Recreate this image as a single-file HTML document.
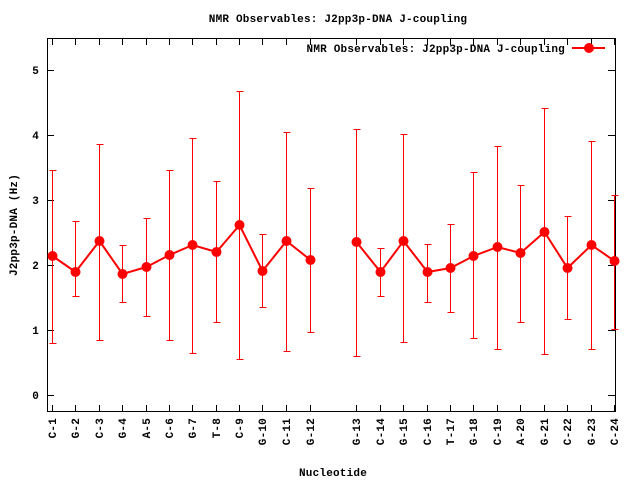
<!DOCTYPE html>
<html><head><style>body{margin:0;background:#fff}svg{display:block}text{font-family:"Liberation Mono",monospace;font-weight:bold;font-size:11px;fill:#000;letter-spacing:0.2px}</style></head>
<body>
<svg width="640" height="480" xmlns="http://www.w3.org/2000/svg">
<text x="338" y="22" text-anchor="middle">NMR Observables: J2pp3p-DNA J-coupling</text>
<rect x="47.5" y="38.5" width="568" height="373" fill="none" stroke="#000"/>
<g stroke="#000" id="yt">
<line x1="47" y1="395.5" x2="54" y2="395.5"/><line x1="615" y1="395.5" x2="608" y2="395.5"/>
<line x1="47" y1="330.5" x2="54" y2="330.5"/><line x1="615" y1="330.5" x2="608" y2="330.5"/>
<line x1="47" y1="265.5" x2="54" y2="265.5"/><line x1="615" y1="265.5" x2="608" y2="265.5"/>
<line x1="47" y1="200.5" x2="54" y2="200.5"/><line x1="615" y1="200.5" x2="608" y2="200.5"/>
<line x1="47" y1="135.5" x2="54" y2="135.5"/><line x1="615" y1="135.5" x2="608" y2="135.5"/>
<line x1="47" y1="70.5" x2="54" y2="70.5"/><line x1="615" y1="70.5" x2="608" y2="70.5"/>
</g>
<g text-anchor="end">
<text x="39" y="399">0</text><text x="39" y="334">1</text><text x="39" y="269">2</text><text x="39" y="204">3</text><text x="39" y="139">4</text><text x="39" y="74">5</text>
</g>
<text transform="translate(17,225) rotate(-90)" text-anchor="middle">J2pp3p-DNA (Hz)</text>
<text x="333" y="476" text-anchor="middle">Nucleotide</text>
<g id="xt" stroke="#000"></g>
<g id="xl"></g>
<g id="d"></g>
<text x="565" y="52" text-anchor="end">NMR Observables: J2pp3p-DNA J-coupling</text>
<line x1="572" y1="48" x2="605" y2="48" stroke="#f00" stroke-width="2"/>
<circle cx="589" cy="48" r="5" fill="#f00"/>
<script>
var D=[[52,256,170,343,"C-1"],[75,272,221,296,"G-2"],[99,241,144,340,"C-3"],[122,274,245,302,"G-4"],[146,267,218,316,"A-5"],[169,255,170,340,"C-6"],[192,245,138,353,"G-7"],[216,252,181,322,"T-8"],[239,225,91,359,"C-9"],[262,271,234,307,"G-10"],[286,241,132,351,"C-11"],[310,260,188,332,"G-12"],[356,242,129,356,"G-13"],[380,272,248,296,"C-14"],[403,241,134,342,"G-15"],[427,272,244,302,"C-16"],[450,268,224,312,"T-17"],[473,256,172,338,"G-18"],[497,247,146,349,"C-19"],[520,253,185,322,"A-20"],[544,232,108,354,"G-21"],[567,268,216,319,"C-22"],[591,245,141,349,"G-23"],[614,261,195,329,"C-24"]];
var ns="http://www.w3.org/2000/svg",xt=document.getElementById("xt"),xl=document.getElementById("xl"),d=document.getElementById("d");
function el(p,t,a){var e=document.createElementNS(ns,t);for(var k in a)e.setAttribute(k,a[k]);p.appendChild(e);return e;}
var pts=[];
D.forEach(function(r){var x=r[0]+.5;
el(xt,"line",{x1:x,y1:411,x2:x,y2:405});el(xt,"line",{x1:x,y1:39,x2:x,y2:45});
var t=el(xl,"text",{transform:"translate("+(r[0]+4)+",418) rotate(-90)","text-anchor":"end"});t.textContent=r[4];
el(d,"line",{x1:x,y1:r[2],x2:x,y2:r[3],stroke:"#f00","stroke-width":1});
el(d,"line",{x1:x-3,y1:r[2]+.5,x2:x+4,y2:r[2]+.5,stroke:"#f00"});
el(d,"line",{x1:x-3,y1:r[3]+.5,x2:x+4,y2:r[3]+.5,stroke:"#f00"});
pts.push(x+","+r[1]);});
el(d,"polyline",{points:pts.slice(0,12).join(" "),fill:"none",stroke:"#f00","stroke-width":2});
el(d,"polyline",{points:pts.slice(12).join(" "),fill:"none",stroke:"#f00","stroke-width":2});
D.forEach(function(r){el(d,"circle",{cx:r[0]+.5,cy:r[1],r:5,fill:"#f00"});});
</script>
</svg>
</body></html>
